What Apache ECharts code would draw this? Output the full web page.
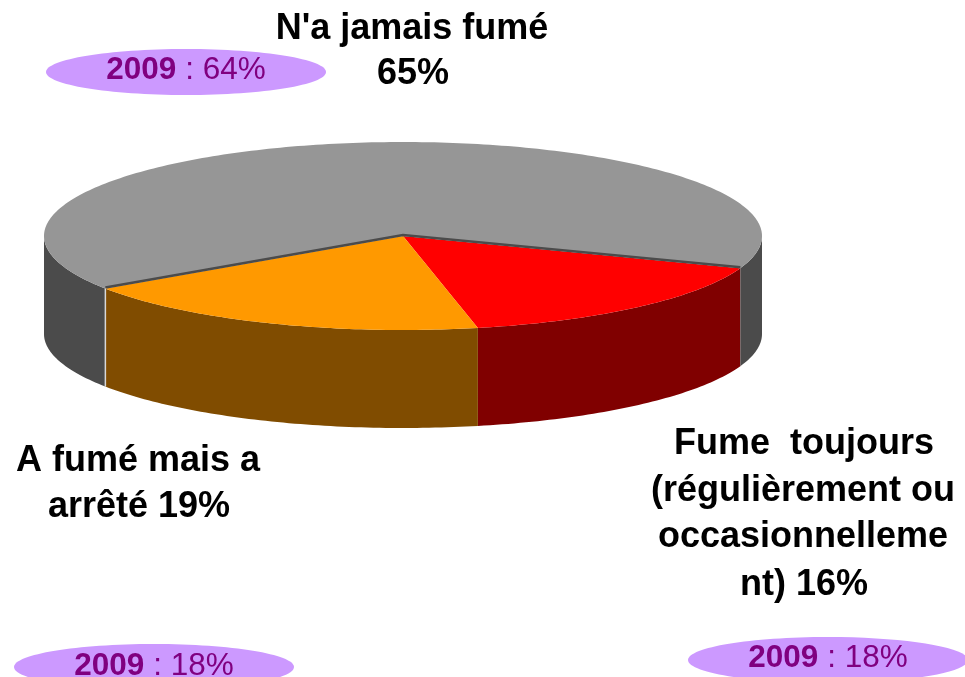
<!DOCTYPE html>
<html>
<head>
<meta charset="utf-8">
<style>
  html, body { margin: 0; padding: 0; background: #fff; overflow: hidden; }
  #chart { width: 965px; height: 677px; }
</style>
<script src="https://cdn.jsdelivr.net/npm/echarts@6/dist/echarts.min.js"></script>
</head>
<body>
<div id="chart"></div>
<script>
// shares in drawing order, clockwise from the red slice
const categories = ['Fume toujours', 'A fumé mais a arrêté', "N'a jamais fumé"]
const shares = [16.1, 18.9, 65.0]
const shares2009 = [18, 18, 64]
const topColors = ['#ff0000', '#ff9900', '#969696']
const sideColors = ['#800000', '#804c00', '#4b4b4b']

// pie geometry
const cx = 403
const cy = 236
const rx = 359
const ry = 94
const depth = 98
const startAngle = 20

const font = '"Liberation Sans", Arial, sans-serif'
const total = shares.reduce((a, b) => a + b, 0)

function rad (d) {
  return d * Math.PI / 180
}
function rim (d, dy = 0) {
  return [cx + rx * Math.cos(rad(d)), cy + dy + ry * Math.sin(rad(d))]
}
function arc (from, to, dy) {
  const pts = []
  const n = Math.max(2, Math.ceil(Math.abs(to - from)))
  for (let i = 0; i <= n; i++) {
    pts.push(rim(from + (to - from) * i / n, dy))
  }
  return pts
}
// one wall piece, only the part facing the viewer (0..180 or 360..540)
function wall (from, to, color) {
  const out = []
  for (const k of [0, 360]) {
    const a = Math.max(from, k)
    const b = Math.min(to, k + 180)
    if (a < b) {
      out.push({
        type: 'polygon',
        z2: 1,
        shape: { points: arc(a, b, 0).concat(arc(b, a, depth)) },
        style: { fill: color }
      })
    }
  }
  return out
}

function renderSlice (params, api) {
  const i = params.dataIndex
  const before = shares.slice(0, i).reduce((a, b) => a + b, 0)
  const from = startAngle + before / total * 360
  const to = from + api.value(0) / total * 360
  const children = wall(from, to, sideColors[i])
  children.push({
    type: 'polygon',
    z2: 5,
    shape: { points: [[cx, cy]].concat(arc(from, to, 0)) },
    style: { fill: topColors[i] }
  })
  // thin dark inner wall along the grey slice, pale seam on its left end
  if (i === categories.length - 1) {
    const a = rim(from)
    const b = rim(to)
    children.push({
      type: 'polyline',
      z2: 6,
      shape: { points: [[a[0], a[1] - 1], [cx, cy - 1], [b[0], b[1] - 1]] },
      style: { stroke: '#4b4b4b', lineWidth: 2.5, fill: null }
    })
    children.push({
      type: 'line',
      z2: 6,
      shape: { x1: a[0], y1: a[1], x2: a[0], y2: a[1] + depth },
      style: { stroke: '#d8d8d8', lineWidth: 1.5 }
    })
  }
  return { type: 'group', children }
}

function bigLabel (text, x, y) {
  return {
    type: 'text',
    x,
    y,
    style: {
      text,
      font: 'bold 36px ' + font,
      fill: '#000',
      textAlign: 'center',
      textVerticalAlign: 'middle'
    }
  }
}
function pill (share, cxp, cyp, textDy) {
  return [{
    type: 'ellipse',
    shape: { cx: cxp, cy: cyp, rx: 140, ry: 23 },
    style: { fill: '#cc99ff' }
  }, {
    type: 'text',
    x: cxp,
    y: cyp + textDy,
    style: {
      text: '{b|2009}{n| : ' + share + '%}',
      textAlign: 'center',
      textVerticalAlign: 'middle',
      rich: {
        b: { font: 'bold 31.5px ' + font, fill: '#800080' },
        n: { font: '31.5px ' + font, fill: '#800080' }
      }
    }
  }]
}

const chart = echarts.init(document.getElementById('chart'), null, { renderer: 'canvas' })
chart.setOption({
  animation: false,
  backgroundColor: '#ffffff',
  series: [{
    type: 'custom',
    coordinateSystem: 'none',
    silent: true,
    renderItem: renderSlice,
    data: shares.map((v, i) => ({ name: categories[i], value: [v] }))
  }],
  graphic: [
    bigLabel("N'a jamais fumé", 412, 29.5),
    bigLabel(Math.round(shares[2]) + '%', 413, 74),
    bigLabel('A fumé mais a', 138, 461.5),
    bigLabel('arrêté ' + Math.round(shares[1]) + '%', 139, 507.5),
    bigLabel('Fume  toujours', 804, 444.5),
    bigLabel('(régulièrement ou', 803, 491),
    bigLabel('occasionnelleme', 803, 537),
    bigLabel('nt) ' + Math.round(shares[0]) + '%', 804, 585),
    ...pill(shares2009[2], 186, 72, -2),
    ...pill(shares2009[1], 154, 667, -1),
    ...pill(shares2009[0], 828, 660, -2)
  ]
})
</script>
</body>
</html>
